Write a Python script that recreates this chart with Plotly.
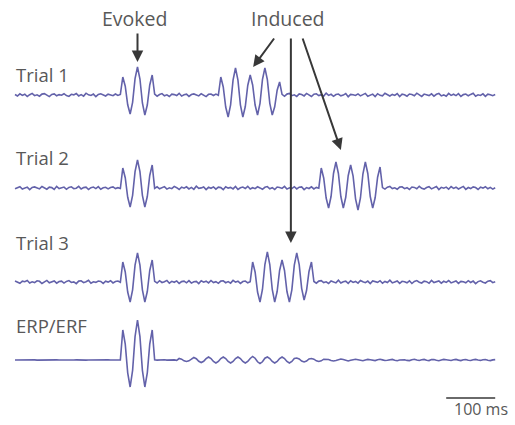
import numpy as np
import plotly.graph_objects as go

# Sampling interval of the traces (ms)
SAMPLE_MS = 5

# Single-trial recordings (µV), one value every 5 ms, one line per 100 ms
trial1_uv = [
    0.5, -1.0, 1.2, -0.4, 0.8, -1.5, 0.3, 1.6, -0.7, 0.2, -1.2, 0.9, 1.4, -0.3, -1.6, 0.6, 1.1, -0.8, 0.4, -0.2,
    1.3, -0.6, -1.4, 0.7, 0.1, 1.5, -0.9, 0.4, -1.1, 1.8, 0.2, -0.5, 0.9, -1.7, 0.6, 1.2, -0.3, -1.0, 0.8, 0.3,
    -0.7, 1.0, -0.4, 0.6, 18, 8.8, -9.8, -19, -7.3, 16.3, 28, 16, -8, -20, -10, 10, 20, 0.8, -1.2, 0.5,
    1.4, -0.8, 0.2, -1.5, 0.9, 0.4, -0.6, 1.7, -1.1, 0.3, 0.8, -1.4, 0.5, 1.1, -0.2, -0.9, 1.3, 0.1, -1.6, 0.7,
    1.0, -0.5, 0.9, -0.3, 18, 8, -12, -22, -9.8, 14.8, 27, 14.8, -9.8, -22, -11.5, 9.5, 20, 10, -10, -20,
    -8.3, 15.3, 27, 15.3, -8.3, -20, -11.8, 4.8, 13, 0.6, -1.3, 0.9, 1.5, -0.7, 0.2, -1.4, 1.1, 0.4, -0.9, 1.6,
    -0.2, -1.5, 0.8, 1.2, -0.6, 0.3, -1.1, 1.9, -0.4, 0.7, -1.3, 0.5, 1.0, -0.8, -0.1, 1.4, -1.7, 0.6, 0.2, -0.5,
    1.1, -0.9, 0.4, 1.6, -1.2, 0.1, 0.9, -1.5, 1.3, -0.3, -0.8, 1.7, 0.2, -1.0, 0.6, -0.4, 1.5, -1.6, 0.8, 0.3,
    -1.2, 1.0, 0.5, -0.7, 1.8, -0.2, -1.4, 0.9, 0.3, -0.6, 1.2, -1.1, 0.7, 1.5, -0.9, 0.1, -1.3, 1.6, -0.4, 0.8,
    -0.6, 1.3, -1.5, 0.4, 1.0, -0.8, 0.6, 1.7, -1.2, 0.2, -0.5, 1.1, -1.4, 0.9, 0.3, -0.7, 0.5,
]

trial2_uv = [
    -0.8, 0.6, 1.3, -1.1, 0.2, 0.9, -1.6, 0.5, 1.1, -0.3, -0.9, 1.5, 0.1, -1.2, 0.8, 0.4, -1.4, 1.7, -0.5, 0.3,
    0.9, -1.3, 0.6, 1.2, -0.7, -0.2, 1.6, -1.0, 0.4, 0.8, -1.5, 0.3, 1.0, -0.6, 1.4, -1.2, 0.2, 0.7, -0.9, 0.5,
    1.1, -0.6, 0.3, -0.5, 20, 10.3, -9.3, -19, -7.3, 16.3, 28, 16.3, -7.3, -19, -8.5, 12.5, 23, -0.4, 1.2, -0.8,
    0.5, 1.4, -1.1, 0.2, -0.7, 1.6, 0.3, -1.5, 0.9, -0.2, 1.2, -0.9, 0.6, -1.3, 1.8, -0.4, 0.1, 1.0, -1.6, 0.7,
    -0.3, 1.1, -1.2, 0.8, 0.4, -1.7, 1.3, -0.1, 0.6, -0.9, 1.5, -1.4, 0.2, 0.9, -0.5, 1.7, -1.0, 0.3, -0.7, 1.2,
    0.1, -1.3, 0.7, 1.4, -0.8, 0.3, -1.5, 1.0, 0.5, -0.4, 1.6, -1.1, 0.2, -0.6, 1.3, -0.9, 0.8, 1.1, -1.6, 0.4,
    -0.5, 1.2, -0.9, 0.6, -0.2, 20, 10, -10, -20, -8.5, 14.5, 26, 14.5, -8.5, -20, -9.3, 12.3, 23, 11.8, -10.8,
    -22, -10, 14, 26, 14.5, -8.5, -20, -9.8, 10.8, 21, 0.4, -1.1, 0.8, 1.5, -0.6, 0.2, -1.3, 0.9, 1.2, -0.7,
    0.3, -1.5, 1.0, 0.6, -0.8, 1.7, -0.3, -1.1, 0.5, 1.3, -0.9, 0.1, 1.4, -1.6, 0.7, -0.2, 0.9, -1.2, 1.5, -0.4,
    0.8, -1.0, 0.2, 1.6, -1.3, 0.5, -0.6, 1.1, 0.4, -1.5, 0.9, -0.1, 1.3, -0.8, 0.6, -1.1, 0.3,
]

trial3_uv = [
    1.0, -0.4, -1.3, 0.8, 0.3, 1.5, -1.0, 0.2, -0.6, 1.2, 0.7, -1.5, 0.4, 1.6, -0.8, -0.2, 1.1, -1.2, 0.5, 0.9,
    -1.1, 0.6, 1.4, -0.5, 0.1, -1.6, 0.9, 1.2, -0.7, 0.3, 1.7, -1.3, 0.2, -0.4, 1.0, 0.6, -1.4, 0.8, -0.1, 1.3,
    -0.9, 0.5, 1.0, -0.3, 20, 10, -10, -20, -7.8, 16.8, 29, 16.8, -7.8, -20, -9.5, 11.5, 22, 0.6, -1.0, 1.3,
    -0.5, 0.2, 1.6, -1.2, 0.7, -0.3, 1.1, -1.5, 0.4, 0.9, -0.8, 1.4, -1.1, 0.3, 0.6, -1.6, 1.2, -0.2, 0.8, -0.9,
    1.5, -0.6, 0.3, -1.3, 0.9, 1.2, -0.7, 0.4, -1.1, 1.6, -0.2, 0.8, -1.4, 0.5, 1.0, -0.8, 0.3, 20, 10, -10,
    -20, -7.5, 17.5, 30, 17.5, -7.5, -20, -9.5, 11.5, 22, 11.5, -9.5, -20, -7.8, 16.8, 29, 17.3, -6.3, -18, -8.5,
    10.5, 20, 0.5, -1.2, 0.9, 1.4, -0.6, 0.2, -1.5, 1.1, 0.4, -0.9, 1.7, -1.0, 0.3, 0.8, -1.3, 1.2, -0.4, 0.6,
    -1.1, 1.5, 0.2, -0.7, 0.9, -1.6, 1.0, 0.4, -0.3, 1.3, -1.2, 0.6, -0.5, 1.8, -0.9, 0.1, 1.1, -1.4, 0.7, 0.3,
    -0.8, 1.2, -1.5, 0.5, 1.4, -0.2, -1.0, 0.8, 0.3, -1.3, 1.6, -0.6, 0.2, 1.0, -1.2, 0.7, -0.4, 1.5, -0.9, 0.4,
    1.1, -1.4, 0.6, 0.2, -0.8, 1.3, -0.5, 0.9, -1.6, 0.4, 1.2, -0.3, -1.0, 0.8, 1.4, -0.7, 0.2,
]

# Trial average (µV)
erp_uv = [
    0.0, 0.1, -0.1, 0.1, 0.0, -0.1, 0.1, 0.0, 0.1, -0.1, 0.0, 0.1, -0.1, 0.0, 0.1, 0.0, -0.1, 0.1, 0.0, -0.1,
    0.1, 0.0, -0.1, 0.1, 0.0, 0.1, -0.1, 0.0, 0.1, -0.1, 0.0, 0.1, 0.0, -0.1, 0.1, 0.0, -0.1, 0.0, 0.1, 0.0,
    0.1, -0.1, 0.0, 0.1, 30, 15.8, -12.8, -27, -10.3, 23.3, 40, 23.3, -10.3, -27, -12.8, 15.8, 30, 0.2, -0.1, 0.1,
    0.0, 0.2, -0.1, 0.1, -0.2, 0.1, -0.3, 1.5, 0.8, -0.8, -1.5, -0.8, 0.8, 2.5, 1.3, -1.3, -2.5, -1.3, 1.3, 3.0,
    1.5, -1.5, -3, -1.5, 1.5, 3, 1.5, -1.5, -3, -1.5, 1.5, 3, 1.5, -1.5, -3, -1.5, 1.5, 3.5, 1.8, -1.8,
    -3.5, -1.8, 1.8, 3, 1.5, -1.5, -3, -1.5, 1.5, 3, 1.5, -1.5, -3, -1.5, 1.5, 2, 1, -1, -2, -1,
    1, 1.5, 0.8, -0.8, -1.5, -0.8, 0.8, 1, 0.5, -0.5, -1, -0.5, 0.5, 1, 0.5, -0.5, -1, -0.3, 0.4, 0.7,
    0.2, -0.5, -0.7, 0.1, 0.6, 0.3, -0.4, -0.6, 0.2, 0.7, 0.1, -0.5, -0.3, 0.4, 0.6, -0.2, -0.7, 0.0, 0.5, 0.3,
    -0.4, -0.6, 0.3, 0.7, 0.0, -0.5, 0.2, 0.6, -0.3, -0.6, 0.4, 0.5, -0.2, -0.7, 0.1, 0.6, 0.3, -0.4, -0.5, 0.2,
    0.6, -0.1, -0.6, 0.3, 0.5, -0.3, -0.5, 0.2, 0.6, 0.0, -0.4, 0.3, 0.5, -0.2, -0.6, 0.1, 0.4,
]

trace_labels = ["Trial 1", "Trial 2", "Trial 3", "ERP/ERF"]
traces = [trial1_uv, trial2_uv, trial3_uv, erp_uv]

# Vertical stacking of the traces (baseline of each row)
baselines = [-95, -188, -282, -360]
label_y = [-74, -157, -242, -325]

SCALE_BAR_MS = 100

TRACE_COLOR = "#6362aa"
TEXT_COLOR = "#585858"
ARROW_COLOR = "#383838"
FONT = "Open Sans, Noto Sans, sans-serif"

fig = go.Figure()
for vals, base in zip(traces, baselines):
    v = np.asarray(vals, dtype=float)
    t = np.arange(len(v)) * SAMPLE_MS
    fig.add_trace(go.Scatter(
        x=t, y=v + base, mode="lines",
        line=dict(color=TRACE_COLOR, width=1.6),
        hoverinfo="skip", showlegend=False,
    ))

t_end = (len(trial1_uv) - 1) * SAMPLE_MS

annotations = []
for lab, ly in zip(trace_labels, label_y):
    annotations.append(dict(
        x=-2, y=ly, xref="x", yref="y", text=lab, showarrow=False,
        xanchor="left", yanchor="middle",
        font=dict(family=FONT, size=18.5, color=TEXT_COLOR),
    ))

# Headings
annotations.append(dict(x=243, y=-18, xref="x", yref="y", text="Evoked",
                        showarrow=False, xanchor="center", yanchor="middle",
                        font=dict(family=FONT, size=19.5, color=TEXT_COLOR)))
annotations.append(dict(x=558, y=-18, xref="x", yref="y", text="Induced",
                        showarrow=False, xanchor="center", yanchor="middle",
                        font=dict(family=FONT, size=19.5, color=TEXT_COLOR)))

# Pointer arrows: (tip x, tip y, tail x, tail y)
arrows = [
    (250, -62, 250, -32),
    (486, -67, 531, -37),
    (563, -243, 563, -37),
    (665, -150, 586, -37),
]
for x, y, ax, ay in arrows:
    annotations.append(dict(
        x=x, y=y, ax=ax, ay=ay, xref="x", yref="y", axref="x", ayref="y",
        text="", showarrow=True, arrowhead=2, arrowsize=1.15, arrowwidth=2,
        arrowcolor=ARROW_COLOR,
    ))

# Scale bar label
annotations.append(dict(x=t_end - SCALE_BAR_MS + 11, y=-409, xref="x", yref="y",
                        text="100 ms", showarrow=False, xanchor="left", yanchor="middle",
                        font=dict(family=FONT, size=16, color=TEXT_COLOR)))

fig.add_shape(type="line", x0=t_end - SCALE_BAR_MS, x1=t_end, y0=-398, y1=-398,
              xref="x", yref="y", line=dict(color=ARROW_COLOR, width=1.5))

fig.update_layout(
    width=515, height=425,
    margin=dict(l=0, r=0, t=0, b=0),
    paper_bgcolor="white", plot_bgcolor="white",
    xaxis=dict(range=[-15 / 0.49, 500 / 0.49], visible=False, fixedrange=True),
    yaxis=dict(range=[-425, 0], visible=False, fixedrange=True),
    annotations=annotations,
    showlegend=False,
)

fig.write_html("out.html")
